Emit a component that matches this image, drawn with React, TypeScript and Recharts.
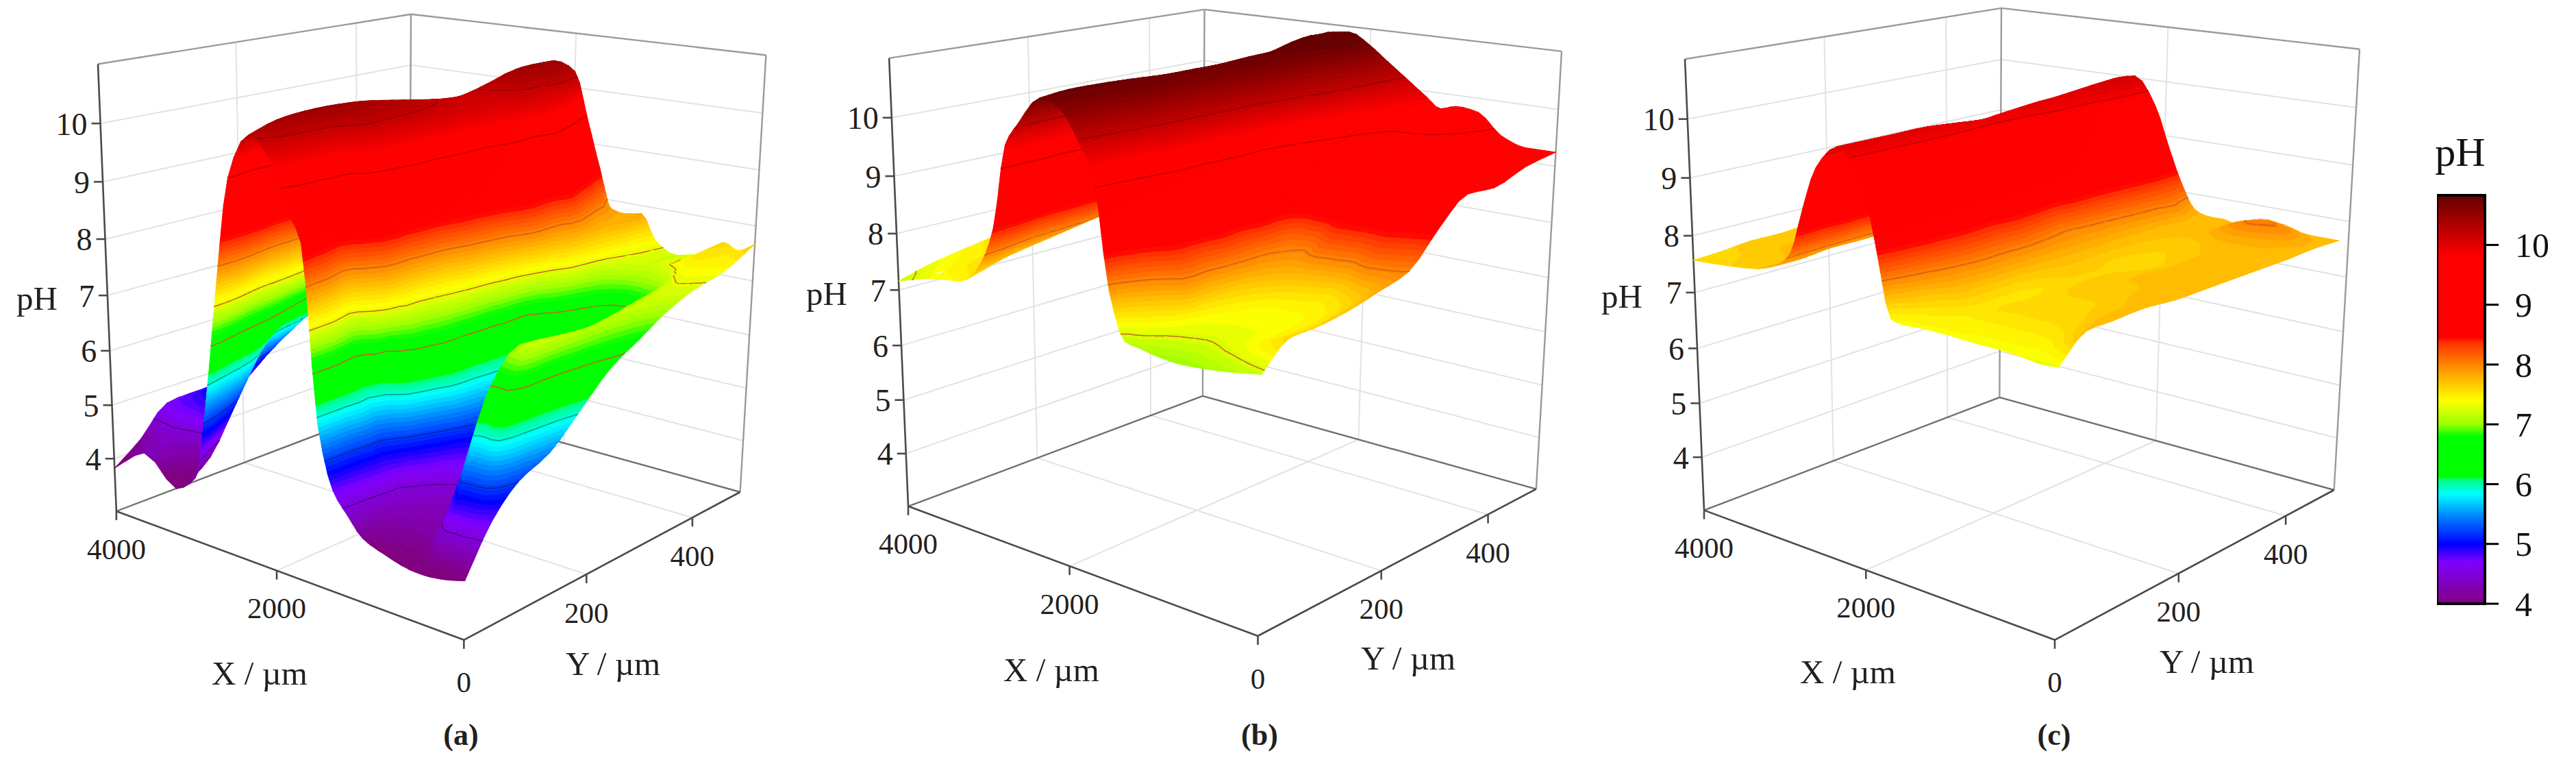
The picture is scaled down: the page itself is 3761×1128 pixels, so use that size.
import { Bar, BarChart, Scatter, ScatterChart, XAxis, YAxis } from "recharts";

// grid nodes of the scan, in micrometres
const xNodes = [0, 160, 320, 560, 800, 1040, 1200, 1360, 1520, 1680, 1840, 2000, 2240, 2480, 2640, 2800, 2960, 3200, 3600, 4000];
const yNodes = [0, 40, 80, 130, 180, 230, 280, 330, 380, 440, 500];
const yNodesC = [0, 40, 80, 130, 180, 230, 280, 330, 380, 430, 480];

const surfaceA = [
    [3.98, 3.9, 3.85, 3.85, 3.95, 4.1, 4.4, 4.75, 5.8, 8.7, 9.2, 9.9, 10.25, 9.5, 7.7, 5.6, 4.15, 3.84, 4.3, 3.82],
    [4.75, 5.0, 5.1, 4.2, 4.2, 4.25, 4.45, 4.8, 5.8, 8, 9.4, 10.05, 10.4, 9.9, 8, 6.5, 5, 4.1, 4.4, 4.2],
    [5.2, 6.5, 6.5, 4.4, 4.3, 4.4, 4.5, 4.9, 5.8, 7.4, 9.4, 10.05, 10.45, 9.95, 8.6, 7.2, 5.8, 4.9, 4.8, 4.7],
    [5.45, 7.2, 7.1, 4.8, 4.5, 4.6, 5.0, 6.5, 7.5, 9.4, 10.05, 10.3, 10.45, 9.95, 9, 7.6, 6.6, 5.8, 5.2, 4.7],
    [5.95, 7.15, 7, 5.1, 4.9, 5.1, 5.9, 6.9, 7.6, 9.6, 10.05, 10.25, 10.4, 9.95, 9.2, 8, 7, 6.3, 5.5, 4.5],
    [6.45, 7.1, 6.95, 5.4, 5.1, 5.5, 6, 7, 8.2, 9.6, 10.05, 10.2, 10.3, 9.9, 9.3, 8.2, 7.3, 6.5, 5.7, 4.9],
    [6.75, 7.15, 7, 5.7, 5.5, 5.8, 6, 7.4, 8.6, 9.6, 10, 10.15, 10.2, 9.85, 9.4, 8.3, 7.5, 6.7, 6, 5.4],
    [7.05, 7.2, 7.1, 6, 5.9, 6.3, 6.9, 8.2, 9, 9.8, 10, 10.1, 10.15, 9.9, 9.4, 8.4, 7.6, 6.9, 6.4, 6],
    [7.25, 7.3, 7.2, 6.3, 6.3, 6.8, 7.6, 8.3, 9.1, 9.85, 10.1, 10.2, 10.25, 10, 9.4, 8.4, 7.7, 7.1, 6.8, 6.6],
    [7.38, 7.45, 7.5, 7.3, 7.2, 7.3, 7.7, 7.9, 8.5, 9.5, 10.1, 10.35, 10.45, 10.1, 9.4, 8.4, 7.8, 7.3, 7.1, 7],
    [7.67, 7.5, 7.6, 7.3, 7.2, 7.41, 7.85, 7.8, 7.78, 8.55, 9.45, 10.3, 10.45, 10.2, 9.3, 8.4, 7.9, 7.5, 7.4, 7.5],
];
const surfaceB = [
    [7.2, 7.15, 7.1, 7.05, 7.02, 7.05, 7.1, 7.15, 7.9, 9.7, 10.2, 10.6, 10.75, 10.3, 9.9, 8.5, 7.85, 7.45, 7.35, 7.16],
    [7.6, 7.5, 7.4, 7.3, 7.25, 7.3, 7.5, 7.9, 8.6, 9.8, 10.3, 10.6, 10.8, 10.4, 10, 8.7, 8, 7.6, 7.45, 7.3],
    [7.62, 7.5, 7.42, 7.35, 7.35, 7.4, 8.0, 8.5, 9, 9.9, 10.35, 10.65, 10.8, 10.45, 10.1, 9, 8.2, 7.7, 7.5, 7.4],
    [7.7, 7.55, 7.45, 7.4, 7.4, 7.55, 8.0, 8.6, 9.2, 10, 10.4, 10.7, 10.78, 10.5, 10.1, 9.1, 8.3, 7.8, 7.6, 7.5],
    [7.84, 7.7, 7.6, 7.5, 7.6, 7.8, 8.0, 8.5, 9.2, 10, 10.4, 10.65, 10.75, 10.5, 10.1, 9.2, 8.4, 7.9, 7.7, 7.6],
    [8, 8.1, 8.2, 8.1, 8.2, 8.0, 8.1, 8.5, 9.2, 10, 10.4, 10.65, 10.75, 10.5, 10.2, 9.3, 8.5, 8, 7.8, 7.7],
    [8.55, 8.6, 8.7, 8.8, 8.8, 8.8, 8.7, 8.9, 9.4, 10.1, 10.45, 10.7, 10.75, 10.55, 10.2, 9.4, 8.6, 8.1, 7.9, 7.8],
    [8.98, 9, 9.1, 9.1, 9.1, 9.1, 9.1, 9.3, 9.7, 10.2, 10.45, 10.7, 10.78, 10.6, 10.3, 9.5, 8.7, 8.2, 8, 7.9],
    [8.95, 9, 9.1, 9.2, 9.3, 9.3, 9.3, 9.5, 9.9, 10.3, 10.5, 10.72, 10.8, 10.65, 10.3, 9.5, 8.8, 8.3, 8.1, 8],
    [9.15, 9.2, 9.2, 9.3, 9.5, 9.6, 9.6, 9.8, 10, 10.35, 10.6, 10.85, 10.95, 10.8, 10.4, 9.6, 8.9, 8.4, 8.2, 8.1],
    [9.25, 9.25, 9.25, 9.4, 9.75, 9.8, 9.72, 9.9, 10.1, 10.3, 10.5, 10.7, 10.9, 10.85, 10.5, 9.6, 9, 8.5, 8.3, 8.2],
];
const surfaceC = [
    [7.34, 7.32, 7.35, 7.38, 7.38, 7.4, 7.4, 7.4, 7.38, 7.42, 8.6, 9.6, 10, 9.6, 8.9, 8.1, 7.85, 7.7, 7.62, 7.57],
    [7.74, 7.6, 7.5, 7.48, 7.48, 7.48, 7.48, 7.52, 7.6, 7.9, 8.8, 9.6, 10, 9.7, 9, 8.2, 7.85, 7.7, 7.65, 7.6],
    [7.75, 7.7, 7.62, 7.58, 7.58, 7.58, 7.52, 7.62, 7.8, 8.1, 8.9, 9.6, 10, 9.7, 9, 8.2, 7.9, 7.75, 7.7, 7.65],
    [7.77, 7.72, 7.67, 7.62, 7.62, 7.57, 7.52, 7.62, 7.85, 8.2, 8.9, 9.6, 10, 9.75, 9.1, 8.3, 7.9, 7.75, 7.7, 7.65],
    [7.72, 7.75, 7.72, 7.67, 7.67, 7.62, 7.62, 7.67, 7.85, 8.2, 8.9, 9.6, 9.95, 9.75, 9.1, 8.3, 7.9, 7.8, 7.7, 7.7],
    [7.72, 7.75, 7.72, 7.72, 7.67, 7.62, 7.67, 7.72, 7.85, 8.1, 8.9, 9.6, 9.9, 9.75, 9.1, 8.3, 7.95, 7.8, 7.75, 7.7],
    [7.72, 7.75, 7.72, 7.72, 7.62, 7.57, 7.62, 7.72, 7.85, 8.0, 8.8, 9.55, 9.95, 9.8, 9.1, 8.3, 7.95, 7.8, 7.75, 7.7],
    [7.72, 7.75, 7.77, 7.72, 7.67, 7.62, 7.67, 7.72, 7.85, 8.1, 8.8, 9.6, 10, 9.85, 9.2, 8.4, 8, 7.85, 7.8, 7.75],
    [7.72, 7.72, 7.75, 7.75, 7.72, 7.68, 7.7, 7.72, 7.9, 8.2, 8.9, 9.6, 10, 9.9, 9.2, 8.4, 8, 7.85, 7.8, 7.75],
    [7.74, 7.8, 7.95, 8.05, 7.95, 7.75, 7.72, 7.75, 7.98, 8.3, 9, 9.65, 10.08, 9.95, 9.3, 8.5, 8.05, 7.9, 7.85, 7.8],
    [7.72, 7.72, 7.72, 7.82, 7.85, 7.68, 7.72, 7.72, 7.8, 8.25, 8.9, 9.6, 10.1, 10, 9.3, 8.6, 8.1, 7.9, 7.85, 7.8],
];

const phTicks = [4, 5, 6, 7, 8, 9, 10];
const xTicks = [0, 2000, 4000];
const yTicks = [200, 400];

const contoursA = [4.5, 5.2, 5.9, 6.6, 7.3, 8, 9.5, 10.2];
const contoursB = [7.25, 8, 9.5, 10.2];
const contoursC = [8, 9.85];

// colour bar stops
const phStops: [number, string][] = [
    [4, "#800080"],
    [4.7, "#8000ff"],
    [5, "#0000ff"],
    [5.45, "#0080ff"],
    [5.83, "#00ffff"],
    [6.08, "#00ff80"],
    [6.12, "#00ff00"],
    [6.8, "#00ff00"],
    [7.0, "#99ff00"],
    [7.4, "#ffff00"],
    [7.85, "#ffa500"],
    [8.37, "#ff3000"],
    [8.45, "#ff0000"],
    [9.8, "#ff0000"],
    [10.83, "#660000"],
];
const phBarTop = 10.83;

const FONT = "'Liberation Serif', serif";
const PANEL_W = 1240;
const PANEL_H = 1128;
const X_MAX = 4000;
const Y_MAX = 500;
const Z_MIN = 3;
const Z_MAX = 11;
const PERSPECTIVE = { u: 0.167, v: 0.196, w: -0.0785 };
const BAND = 0.07;
const SMOOTH = 3;

type Pt = [number, number];
type Corners = { f00: Pt; f10: Pt; f01: Pt; t10: Pt };

const hexToRgb = (hex: string) => [1, 3, 5].map((i) => parseInt(hex.slice(i, i + 2), 16));

const phColor = (ph: number, dim = 1) => {
    let rgb = hexToRgb(phStops[phStops.length - 1][1]);
    if (ph <= phStops[0][0]) rgb = hexToRgb(phStops[0][1]);
    else {
        for (let i = 1; i < phStops.length; i++) {
            if (ph <= phStops[i][0]) {
                const t = (ph - phStops[i - 1][0]) / (phStops[i][0] - phStops[i - 1][0]);
                const a = hexToRgb(phStops[i - 1][1]);
                const b = hexToRgb(phStops[i][1]);
                rgb = a.map((c, k) => c + (b[k] - c) * t);
                break;
            }
        }
    }
    return `rgb(${rgb.map((c) => Math.round(c * dim)).join(",")})`;
};

const contourColor = (level: number) => {
    if (level < 6.2) return phColor(level, 0.6);
    if (level <= 8.2) return "#c9601e";
    return phColor(level, 0.74);
};

// perspective of the plot box, built from the drawn corners
const project = (c: Corners, x: number, y: number, ph: number): Pt => {
    const u = x / X_MAX;
    const v = y / Y_MAX;
    const w = (ph - Z_MIN) / (Z_MAX - Z_MIN);
    const { u: a, v: b, w: k } = PERSPECTIVE;
    const t00 = [0, 1].map((i) => (c.t10[i] * (1 + a + k) - c.f10[i] * (1 + a) + c.f00[i]) / (1 + k));
    const axis = (i: number) =>
        c.f00[i] +
        u * (c.f10[i] * (1 + a) - c.f00[i]) +
        v * (c.f01[i] * (1 + b) - c.f00[i]) +
        w * (t00[i] * (1 + k) - c.f00[i]);
    const d = 1 + a * u + b * v + k * w;
    return [axis(0) / d, axis(1) / d];
};

type V = { x: number; y: number; z: number };

// monotone cubic, the same idea as a line with type="monotone", for the drawn mesh only
const monotoneResample = (vals: number[], factor: number) => {
    const n = vals.length;
    const d = vals.slice(1).map((v, i) => v - vals[i]);
    const m = vals.map((_, i) => {
        if (i === 0) return d[0];
        if (i === n - 1) return d[n - 2];
        if (d[i - 1] * d[i] <= 0) return 0;
        return (2 * d[i - 1] * d[i]) / (d[i - 1] + d[i]);
    });
    const out: number[] = [];
    for (let i = 0; i < n - 1; i++) {
        for (let s = 0; s < factor; s++) {
            const t = s / factor;
            const t2 = t * t;
            const t3 = t2 * t;
            out.push((2 * t3 - 3 * t2 + 1) * vals[i] + (t3 - 2 * t2 + t) * m[i] + (-2 * t3 + 3 * t2) * vals[i + 1] + (t3 - t2) * m[i + 1]);
        }
    }
    out.push(vals[n - 1]);
    return out;
};

const resampleVerts = (line: V[], factor: number): V[] => {
    const xs = monotoneResample(line.map((p) => p.x), factor);
    const ys = monotoneResample(line.map((p) => p.y), factor);
    const zs = monotoneResample(line.map((p) => p.z), factor);
    return xs.map((x, i) => ({ x, y: ys[i], z: zs[i] }));
};

const smoothGrid = (grid: V[][]) => {
    const byRow = grid.map((row) => resampleVerts(row, SMOOTH));
    const cols = byRow[0].length;
    const byCol: V[][] = [];
    for (let j = 0; j < cols; j++) byCol.push(resampleVerts(byRow.map((row) => row[j]), SMOOTH));
    return byCol[0].map((_, i) => byCol.map((col) => col[i]));
};

const clipBand = (tri: V[], lo: number, hi: number) => {
    const clip = (poly: V[], level: number, keepAbove: boolean) => {
        const out: V[] = [];
        poly.forEach((p, i) => {
            const q = poly[(i + 1) % poly.length];
            const pIn = keepAbove ? p.z >= level : p.z <= level;
            const qIn = keepAbove ? q.z >= level : q.z <= level;
            if (pIn) out.push(p);
            if (pIn !== qIn) {
                const t = (level - p.z) / (q.z - p.z);
                out.push({ x: p.x + (q.x - p.x) * t, y: p.y + (q.y - p.y) * t, z: level });
            }
        });
        return out;
    };
    return clip(clip(tri, lo, true), hi, false);
};

const contourSegment = (tri: V[], level: number) => {
    const hits: V[] = [];
    tri.forEach((p, i) => {
        const q = tri[(i + 1) % 3];
        if (p.z < level !== q.z < level) {
            const t = (level - p.z) / (q.z - p.z);
            hits.push({ x: p.x + (q.x - p.x) * t, y: p.y + (q.y - p.y) * t, z: level });
        }
    });
    return hits.length === 2 ? hits : null;
};

// painted far corner to near corner; the points come from the Scatter, already scaled
const SurfaceMesh = (props: any) => {
    const { points, values, contours } = props;
    const rows = values.length;
    const cols = values[0].length;
    const raw: V[][] = values.map((row: number[], i: number) =>
        row.map((z, j) => {
            const p = points[i * cols + j];
            return { x: p.x, y: p.y, z };
        }),
    );
    const grid = rows > 1 ? smoothGrid(raw) : raw;
    const parts: any[] = [];
    const drawTri = (tri: V[]) => {
        const zs = tri.map((p) => p.z);
        const lo = Math.min(...zs);
        const hi = Math.max(...zs);
        for (let b = Math.floor(lo / BAND); b * BAND < hi || b === Math.floor(lo / BAND); b++) {
            const poly = clipBand(tri, b * BAND, (b + 1) * BAND);
            if (poly.length < 3) continue;
            const d = "M" + poly.map((p) => `${p.x.toFixed(1)},${p.y.toFixed(1)}`).join("L") + "Z";
            const col = phColor((b + 0.5) * BAND);
            parts.push(<path key={parts.length} d={d} fill={col} stroke={col} strokeWidth={0.9} strokeLinejoin="round" />);
        }
        contours.forEach((level: number) => {
            const seg = contourSegment(tri, level);
            if (!seg) return;
            parts.push(
                <line
                    key={parts.length}
                    x1={seg[0].x}
                    y1={seg[0].y}
                    x2={seg[1].x}
                    y2={seg[1].y}
                    stroke={contourColor(level)}
                    strokeWidth={1.5}
                    strokeLinecap="round"
                />,
            );
        });
    };
    for (let i = grid.length - 2; i >= 0; i--) {
        for (let j = grid[0].length - 2; j >= 0; j--) {
            drawTri([grid[i + 1][j + 1], grid[i + 1][j], grid[i][j + 1]]);
            drawTri([grid[i][j], grid[i + 1][j], grid[i][j + 1]]);
        }
    }
    return <g>{parts}</g>;
};

// consecutive point pairs become one straight segment
const Segments = (props: any) => {
    const { points, color, thick } = props;
    const lines = [];
    for (let i = 0; i + 1 < points.length; i += 2) {
        lines.push(
            <line key={i} x1={points[i].x} y1={points[i].y} x2={points[i + 1].x} y2={points[i + 1].y} stroke={color} strokeWidth={thick} />,
        );
    }
    return <g>{lines}</g>;
};

const NoMark = () => null;

const textShape = (size: number, anchor: string, weight = "normal") => (props: any) => (
    <text
        x={props.cx}
        y={props.cy}
        fontFamily={FONT}
        fontSize={size}
        fontWeight={weight}
        fill="#231f20"
        textAnchor={anchor}
        dominantBaseline="central"
    >
        {props.payload.text}
    </text>
);

const toPoint = ([px, py]: Pt, dx = 0, dy = 0, text?: string) => ({ px: px + dx, py: py + dy, text });

const SurfacePanel = ({ left, corners, values, rowsY, contours, name, pHPos, xPos, yPos, namePos }: any) => {
    const p = (x: number, y: number, ph: number) => project(corners, x, y, ph);
    const pair = (a: Pt, b: Pt) => [toPoint(a), toPoint(b)];

    const grid: any[] = [];
    phTicks.forEach((ph) => {
        grid.push(...pair(p(X_MAX, 0, ph), p(X_MAX, Y_MAX, ph)), ...pair(p(X_MAX, Y_MAX, ph), p(0, Y_MAX, ph)));
    });
    yTicks.forEach((y) => {
        grid.push(...pair(p(X_MAX, y, Z_MIN), p(X_MAX, y, Z_MAX)), ...pair(p(0, y, Z_MIN), p(X_MAX, y, Z_MIN)));
    });
    grid.push(...pair(p(2000, Y_MAX, Z_MIN), p(2000, Y_MAX, Z_MAX)), ...pair(p(2000, 0, Z_MIN), p(2000, Y_MAX, Z_MIN)));

    const frame = [
        ...pair(p(X_MAX, 0, Z_MAX), p(X_MAX, Y_MAX, Z_MAX)),
        ...pair(p(X_MAX, Y_MAX, Z_MAX), p(0, Y_MAX, Z_MAX)),
        ...pair(p(X_MAX, Y_MAX, Z_MIN), p(X_MAX, Y_MAX, Z_MAX)),
        ...pair(p(0, Y_MAX, Z_MIN), p(0, Y_MAX, Z_MAX)),
    ];
    const floorBack = [
        ...pair(p(X_MAX, 0, Z_MIN), p(X_MAX, Y_MAX, Z_MIN)),
        ...pair(p(X_MAX, Y_MAX, Z_MIN), p(0, Y_MAX, Z_MIN)),
    ];

    const axes: any[] = [
        ...pair(p(0, 0, Z_MIN), p(X_MAX, 0, Z_MIN)),
        ...pair(p(0, 0, Z_MIN), p(0, Y_MAX, Z_MIN)),
        ...pair(p(X_MAX, 0, Z_MIN), p(X_MAX, 0, Z_MAX)),
    ];
    const tickLabels: any[] = [];
    const phLabels: any[] = [];
    phTicks.forEach((ph) => {
        const a = p(X_MAX, 0, ph);
        axes.push(toPoint(a), toPoint(a, -13, 0));
        phLabels.push(toPoint(a, -19, 1, String(ph)));
    });
    xTicks.forEach((x) => {
        const a = p(x, 0, Z_MIN);
        axes.push(toPoint(a), toPoint(a, 0, 13));
        tickLabels.push(toPoint(a, 0, x === 0 ? 62 : 55, String(x)));
    });
    yTicks.forEach((y) => {
        const a = p(0, y, Z_MIN);
        axes.push(toPoint(a), toPoint(a, 0, 13));
        tickLabels.push(toPoint(a, 0, 56, String(y)));
    });

    const surfacePoints = rowsY.flatMap((y: number, i: number) => xNodes.map((x, j) => toPoint(p(x, y, values[i][j]))));

    return (
        <div style={{ position: "absolute", left, top: 0 }}>
            <ScatterChart width={PANEL_W} height={PANEL_H} margin={{ top: 0, right: 0, bottom: 0, left: 0 }}>
                <XAxis type="number" dataKey="px" domain={[0, PANEL_W]} hide />
                <YAxis type="number" dataKey="py" domain={[0, PANEL_H]} reversed hide />
                <Scatter data={grid} shape={NoMark} isAnimationActive={false} line={<Segments color="#e2e2e2" thick={2} />} />
                <Scatter data={frame} shape={NoMark} isAnimationActive={false} line={<Segments color="#9a9a9a" thick={2.4} />} />
                <Scatter data={floorBack} shape={NoMark} isAnimationActive={false} line={<Segments color="#6f6f6f" thick={2.4} />} />
                <Scatter data={axes} shape={NoMark} isAnimationActive={false} line={<Segments color="#4a4a4a" thick={2.6} />} />
                <Scatter
                    data={surfacePoints}
                    shape={NoMark}
                    isAnimationActive={false}
                    line={<SurfaceMesh values={values} contours={contours} />}
                />
                <Scatter data={phLabels} shape={textShape(46, "end")} isAnimationActive={false} />
                <Scatter data={tickLabels} shape={textShape(43, "middle")} isAnimationActive={false} />
                <Scatter
                    data={[toPoint(pHPos, 0, 0, "pH"), toPoint(xPos, 0, 0, "X / µm"), toPoint(yPos, 0, 0, "Y / µm")]}
                    shape={textShape(49, "middle")}
                    isAnimationActive={false}
                />
                <Scatter data={[toPoint(namePos, 0, 0, name)]} shape={textShape(44, "middle", "bold")} isAnimationActive={false} />
            </ScatterChart>
        </div>
    );
};

const barData = [{ name: "pH", range: [phStops[0][0], phBarTop] }];

const ColorBar = () => (
    <div style={{ position: "absolute", left: 3558, top: 245 }}>
        <BarChart width={203} height={676} data={barData} margin={{ top: 40, right: 0, bottom: 40, left: 0 }} barCategoryGap={0}>
            <defs>
                <linearGradient id="phGradient" x1="0" y1="0" x2="0" y2="1">
                    {[...phStops].reverse().map(([ph, col]) => (
                        <stop key={ph} offset={(phBarTop - ph) / (phBarTop - phStops[0][0])} stopColor={col} />
                    ))}
                </linearGradient>
            </defs>
            <XAxis dataKey="name" hide />
            <YAxis
                orientation="right"
                type="number"
                width={133}
                domain={[phStops[0][0], phBarTop]}
                ticks={phTicks}
                interval={0}
                axisLine={false}
                tickSize={20}
                tickMargin={24}
                tickLine={{ stroke: "#000", strokeWidth: 3 }}
                tick={{ fill: "#111", fontSize: 50, fontFamily: FONT }}
            />
            <Bar dataKey="range" fill="url(#phGradient)" stroke="#000" strokeWidth={4} isAnimationActive={false} />
        </BarChart>
    </div>
);

const App = () => (
    <div style={{ position: "absolute", left: 0, top: 0, width: 3761, height: 1128, background: "#fff", overflow: "hidden" }}>
        <SurfacePanel
            left={0}
            corners={{ f00: [677.3, 933.8], f10: [169.9, 746], f01: [1080.6, 718], t10: [143, 93.5] }}
            values={surfaceA}
            rowsY={yNodes}
            contours={contoursA}
            name="(a)"
            pHPos={[54, 435]}
            xPos={[379, 982]}
            yPos={[895, 968]}
            namePos={[673, 1072]}
        />
        <SurfacePanel
            left={1150}
            corners={{ f00: [686.5, 928], f10: [176, 738.8], f01: [1092.8, 713.6], t10: [148.1, 84.9] }}
            values={surfaceB}
            rowsY={yNodes}
            contours={contoursB}
            name="(b)"
            pHPos={[57, 428]}
            xPos={[385, 977]}
            yPos={[906, 960]}
            namePos={[689, 1072]}
        />
        <SurfacePanel
            left={2300}
            corners={{ f00: [700, 933.8], f10: [188, 744.6], f01: [1107.7, 715], t10: [160, 86.3] }}
            values={surfaceC}
            rowsY={yNodesC}
            contours={contoursC}
            name="(c)"
            pHPos={[68, 432]}
            xPos={[398, 980]}
            yPos={[922, 965]}
            namePos={[699, 1072]}
        />
        <div
            style={{
                position: "absolute",
                left: 3522,
                top: 190,
                width: 140,
                textAlign: "center",
                fontFamily: FONT,
                fontSize: 60,
                lineHeight: "64px",
                color: "#111",
            }}
        >
            pH
        </div>
        <ColorBar />
    </div>
);

export default App;
